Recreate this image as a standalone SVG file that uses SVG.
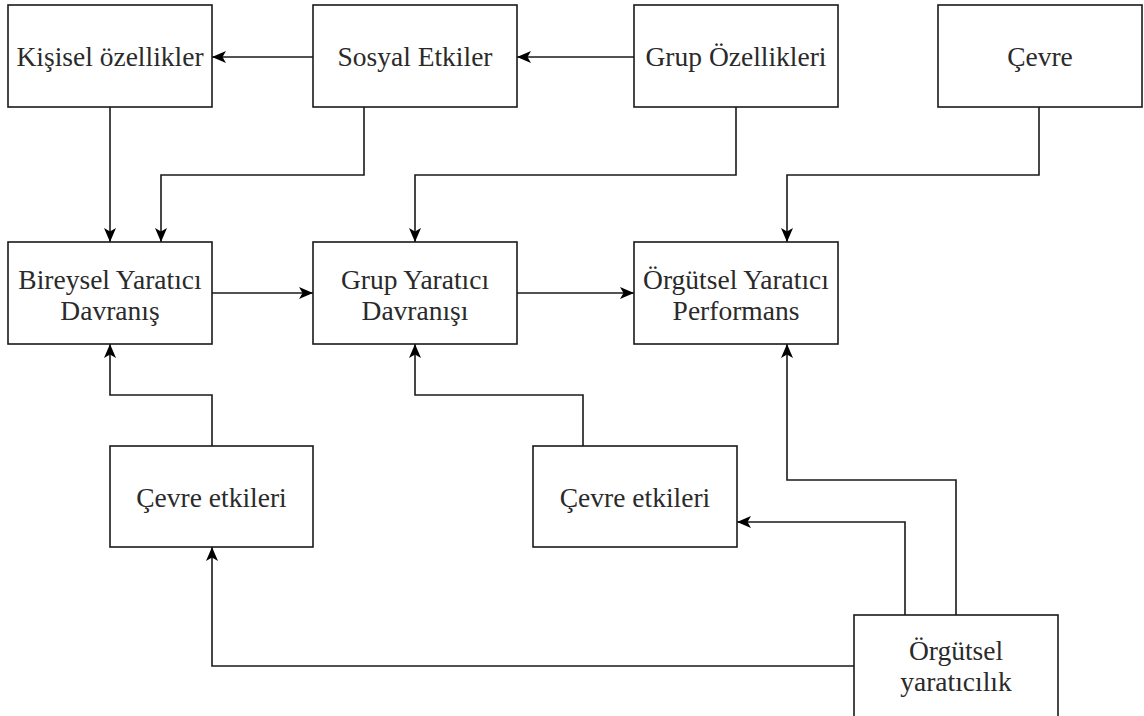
<svg xmlns="http://www.w3.org/2000/svg" width="1144" height="716" viewBox="0 0 1144 716">
  <style>
    .box { fill: #ffffff; stroke: #1a1a1a; stroke-width: 1.6; }
    .lbl { font-family: "Liberation Serif", "Times New Roman", serif; font-size: 27.5px; fill: #2a2a2a; text-anchor: middle; }
    .edge { fill: none; stroke: #1a1a1a; stroke-width: 1.6; marker-end: url(#arrow); }
  </style>
  <defs>
    <marker id="arrow" viewBox="0 0 14 12" refX="14" refY="6" markerWidth="14" markerHeight="12" markerUnits="userSpaceOnUse" orient="auto">
      <path d="M0,0 L14,6 L0,12 L3.5,6 Z" fill="#000000"/>
    </marker>
  </defs>
  <rect width="1144" height="716" fill="#ffffff"/>

  <!-- connectors -->
  <g id="connectors">
    <path class="edge" d="M313,57 H212"/>
    <path class="edge" d="M634,57 H517"/>
    <path class="edge" d="M110,107 V242"/>
    <path class="edge" d="M364,107 V175 H161 V242"/>
    <path class="edge" d="M736,107 V175 H415 V242"/>
    <path class="edge" d="M1039,107 V175 H787 V242"/>
    <path class="edge" d="M212,293 H313"/>
    <path class="edge" d="M517,293 H634"/>
    <path class="edge" d="M212,446 V395 H110 V344"/>
    <path class="edge" d="M583,446 V395 H415 V344"/>
    <path class="edge" d="M956,615 V480 H787 V344"/>
    <path class="edge" d="M905,615 V522 H737"/>
    <path class="edge" d="M854,666 H212 V547"/>
  </g>

  <!-- top row -->
  <g id="kisisel-ozellikler">
    <rect class="box" x="8" y="5" width="204" height="102"/>
    <text class="lbl" x="110" y="66">Kişisel özellikler</text>
  </g>
  <g id="sosyal-etkiler">
    <rect class="box" x="313" y="5" width="204" height="102"/>
    <text class="lbl" x="415" y="66">Sosyal Etkiler</text>
  </g>
  <g id="grup-ozellikleri">
    <rect class="box" x="634" y="5" width="204" height="102"/>
    <text class="lbl" x="736" y="66">Grup Özellikleri</text>
  </g>
  <g id="cevre">
    <rect class="box" x="938" y="5" width="204" height="102"/>
    <text class="lbl" x="1040" y="66">Çevre</text>
  </g>

  <!-- middle row -->
  <g id="bireysel-yaratici-davranis">
    <rect class="box" x="8" y="242" width="204" height="102"/>
    <text class="lbl" x="110" y="289">Bireysel Yaratıcı</text>
    <text class="lbl" x="110" y="320">Davranış</text>
  </g>
  <g id="grup-yaratici-davranisi">
    <rect class="box" x="313" y="242" width="204" height="102"/>
    <text class="lbl" x="415" y="289">Grup Yaratıcı</text>
    <text class="lbl" x="415" y="320">Davranışı</text>
  </g>
  <g id="orgutsel-yaratici-performans">
    <rect class="box" x="634" y="242" width="204" height="102"/>
    <text class="lbl" x="736" y="289">Örgütsel Yaratıcı</text>
    <text class="lbl" x="736" y="320">Performans</text>
  </g>

  <!-- lower row -->
  <g id="cevre-etkileri-1">
    <rect class="box" x="110" y="446" width="203" height="101"/>
    <text class="lbl" x="211.5" y="507">Çevre etkileri</text>
  </g>
  <g id="cevre-etkileri-2">
    <rect class="box" x="533" y="446" width="204" height="101"/>
    <text class="lbl" x="635" y="507">Çevre etkileri</text>
  </g>
  <g id="orgutsel-yaraticilik">
    <rect class="box" x="854" y="615" width="204" height="104"/>
    <text class="lbl" x="956" y="660">Örgütsel</text>
    <text class="lbl" x="956" y="691">yaratıcılık</text>
  </g>
</svg>
